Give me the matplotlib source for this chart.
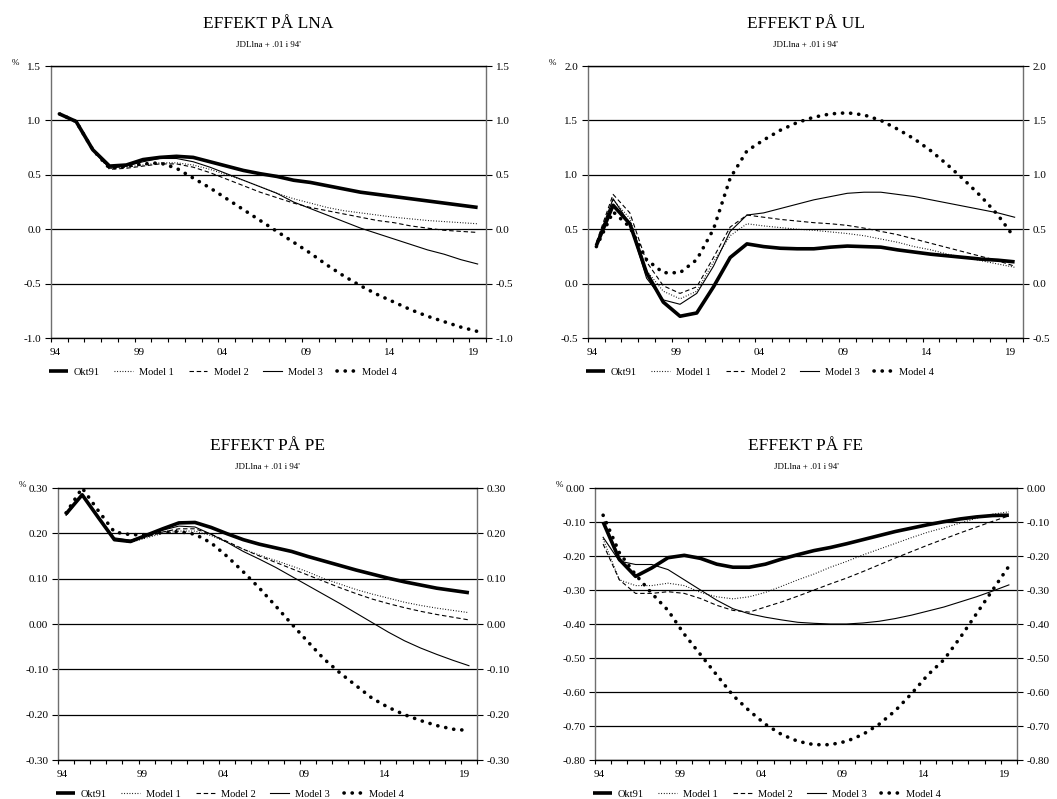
import numpy as np
import matplotlib
matplotlib.use("Agg")
import matplotlib.pyplot as plt
from matplotlib.ticker import FixedLocator, FormatStrFormatter, MultipleLocator

plt.rcParams['font.family'] = ['Liberation Serif', 'DejaVu Serif']

years = ['94', '99', '04', '09', '14', '19']
n_years = 26
series_names = ['Okt91', 'Model 1', 'Model 2', 'Model 3', 'Model 4']

# EFFEKT PÅ LNA
lna_okt91 = [1.06, 0.99, 0.73, 0.58, 0.59, 0.64, 0.66, 0.67, 0.66, 0.62, 0.58, 0.54, 0.51,
             0.485, 0.45, 0.43, 0.40, 0.37, 0.34, 0.32, 0.30, 0.28, 0.26, 0.24, 0.22, 0.20]
lna_m1 = [1.06, 0.99, 0.73, 0.56, 0.57, 0.59, 0.61, 0.61, 0.59, 0.55, 0.50, 0.45, 0.39,
          0.33, 0.28, 0.24, 0.20, 0.17, 0.15, 0.13, 0.11, 0.095, 0.08, 0.07, 0.06, 0.05]
lna_m2 = [1.06, 0.99, 0.73, 0.55, 0.56, 0.58, 0.60, 0.60, 0.57, 0.52, 0.46, 0.40, 0.34,
          0.29, 0.24, 0.20, 0.17, 0.14, 0.11, 0.08, 0.06, 0.03, 0.01, -0.01, -0.02, -0.03]
lna_m3 = [1.06, 0.99, 0.73, 0.56, 0.58, 0.62, 0.65, 0.65, 0.62, 0.57, 0.51, 0.45, 0.39,
          0.33, 0.25, 0.19, 0.13, 0.07, 0.01, -0.04, -0.09, -0.14, -0.19, -0.23, -0.28, -0.32]
lna_m4 = [1.06, 0.99, 0.73, 0.56, 0.58, 0.60, 0.61, 0.56, 0.47, 0.38, 0.28, 0.18, 0.08,
          -0.02, -0.12, -0.22, -0.33, -0.43, -0.52, -0.60, -0.67, -0.74, -0.80, -0.85, -0.90, -0.94]

# EFFEKT PÅ UL
ul_okt91 = [0.35, 0.72, 0.55, 0.10, -0.17, -0.30, -0.27, -0.03, 0.24, 0.365, 0.34, 0.325, 0.32,
            0.32, 0.335, 0.345, 0.34, 0.335, 0.31, 0.29, 0.27, 0.255, 0.24, 0.225, 0.215, 0.20]
ul_m1 = [0.36, 0.77, 0.60, 0.12, -0.07, -0.14, -0.07, 0.20, 0.44, 0.55, 0.53, 0.515, 0.50,
         0.49, 0.475, 0.46, 0.44, 0.41, 0.38, 0.34, 0.31, 0.27, 0.24, 0.21, 0.18, 0.15]
ul_m2 = [0.38, 0.82, 0.65, 0.20, -0.02, -0.09, -0.03, 0.24, 0.52, 0.63, 0.61, 0.59, 0.575,
         0.56, 0.55, 0.535, 0.51, 0.48, 0.45, 0.41, 0.37, 0.33, 0.29, 0.25, 0.21, 0.16]
ul_m3 = [0.37, 0.78, 0.55, 0.05, -0.15, -0.19, -0.09, 0.16, 0.48, 0.63, 0.65, 0.69, 0.73,
         0.77, 0.80, 0.83, 0.84, 0.84, 0.82, 0.80, 0.77, 0.74, 0.71, 0.68, 0.65, 0.61]
ul_m4 = [0.34, 0.66, 0.52, 0.22, 0.10, 0.10, 0.22, 0.50, 0.97, 1.22, 1.32, 1.41, 1.48,
         1.53, 1.56, 1.57, 1.55, 1.50, 1.42, 1.33, 1.22, 1.09, 0.95, 0.80, 0.63, 0.42]

# EFFEKT PÅ PE
pe_okt91 = [0.243, 0.285, 0.235, 0.186, 0.182, 0.196, 0.21, 0.223, 0.224, 0.213, 0.199, 0.186, 0.176,
            0.168, 0.16, 0.149, 0.139, 0.129, 0.119, 0.110, 0.101, 0.093, 0.086, 0.079, 0.074, 0.069]
pe_m1 = [0.24, 0.285, 0.235, 0.185, 0.18, 0.19, 0.20, 0.205, 0.205, 0.195, 0.18, 0.165, 0.152,
         0.14, 0.128, 0.115, 0.10, 0.088, 0.076, 0.066, 0.057, 0.048, 0.041, 0.035, 0.03, 0.025]
pe_m2 = [0.24, 0.285, 0.235, 0.186, 0.182, 0.192, 0.203, 0.21, 0.21, 0.198, 0.182, 0.165, 0.15,
         0.136, 0.122, 0.108, 0.094, 0.08, 0.067, 0.055, 0.045, 0.036, 0.028, 0.021, 0.015, 0.009]
pe_m3 = [0.24, 0.285, 0.235, 0.19, 0.185, 0.195, 0.207, 0.216, 0.214, 0.198, 0.18, 0.16, 0.143,
         0.125, 0.105, 0.085, 0.065, 0.045, 0.024, 0.003, -0.018, -0.037, -0.053, -0.067, -0.080, -0.092]
pe_m4 = [0.245, 0.30, 0.25, 0.203, 0.197, 0.197, 0.202, 0.204, 0.198, 0.179, 0.149, 0.115, 0.079,
         0.040, 0.0, -0.039, -0.077, -0.108, -0.136, -0.164, -0.184, -0.20, -0.213, -0.224, -0.232, -0.235]

# EFFEKT PÅ FE
fe_okt91 = [-0.10, -0.21, -0.26, -0.235, -0.205, -0.198, -0.207, -0.224, -0.233, -0.233, -0.224, -0.209, -0.196,
            -0.184, -0.175, -0.164, -0.152, -0.14, -0.128, -0.118, -0.108, -0.099, -0.091, -0.085, -0.081, -0.08]
fe_m1 = [-0.15, -0.27, -0.287, -0.287, -0.28, -0.287, -0.307, -0.32, -0.326, -0.32, -0.307, -0.289, -0.27,
         -0.253, -0.233, -0.216, -0.197, -0.18, -0.163, -0.146, -0.13, -0.117, -0.103, -0.089, -0.077, -0.07]
fe_m2 = [-0.165, -0.27, -0.31, -0.31, -0.305, -0.31, -0.325, -0.345, -0.36, -0.365, -0.35, -0.335, -0.318,
         -0.30, -0.282, -0.265, -0.246, -0.226, -0.206, -0.187, -0.168, -0.15, -0.132, -0.115, -0.098, -0.082]
fe_m3 = [-0.145, -0.215, -0.225, -0.225, -0.24, -0.27, -0.30, -0.33, -0.355, -0.37, -0.38, -0.388, -0.395,
         -0.398, -0.40, -0.40, -0.397, -0.392, -0.384, -0.374, -0.362, -0.35, -0.335, -0.32, -0.303, -0.285]
fe_m4 = [-0.08, -0.19, -0.255, -0.31, -0.36, -0.43, -0.49, -0.55, -0.61, -0.655, -0.695, -0.725, -0.745,
         -0.755, -0.755, -0.745, -0.725, -0.695, -0.655, -0.605, -0.55, -0.505, -0.44, -0.37, -0.30, -0.23]

W, H = 1057, 799
fig = plt.figure(figsize=(W / 100, H / 100), dpi=100)

styles = [
    dict(color='black', lw=2.6, solid_capstyle='butt'),
    dict(color='black', lw=0.8, linestyle=(0, (0.8, 1.6))),
    dict(color='black', lw=0.8, linestyle=(0, (4, 2.5))),
    dict(color='black', lw=0.8),
    dict(color='black', lw=2.6, linestyle=(0, (0.05, 2.2)), dash_capstyle='round'),
]


def panel(box, title, series, ymin, ymax, step, fmt):
    left, right, top, bottom = box
    ax = fig.add_axes([left / W, 1 - bottom / H, (right - left) / W, (bottom - top) / H])
    x = np.arange(n_years)
    lines = []
    for vals, st, name in zip(series, styles, series_names):
        ln, = ax.plot(x, vals, label=name, **st)
        lines.append(ln)
    ax.set_xlim(-0.5, n_years - 0.5)
    ax.set_ylim(ymin, ymax)
    ax.yaxis.set_major_locator(MultipleLocator(step))
    ax.yaxis.set_major_formatter(FormatStrFormatter(fmt))
    ax.yaxis.grid(True, color='black', lw=0.9)
    ax.set_axisbelow(True)

    # category boundaries as ticks, labels every fifth year
    ax.xaxis.set_minor_locator(FixedLocator(np.arange(-0.5, n_years, 1.0)))
    ax.set_xticks(np.arange(0, n_years, 5) - 0.25)
    ax.set_xticklabels(years)
    ax.tick_params(axis='x', which='major', length=0, pad=7, labelsize=8)
    ax.tick_params(axis='x', which='minor', length=3, width=0.8, direction='out')
    ax.tick_params(axis='y', which='major', length=4, width=0.8, direction='out',
                   right=True, labelright=True, labelsize=8, pad=3)
    for s in ['left', 'right']:
        ax.spines[s].set_color('#6f6f6f')
        ax.spines[s].set_linewidth(1.0)
    ax.spines['bottom'].set_linewidth(1.0)
    ax.spines['top'].set_linewidth(1.0)

    cx = (left + right) / 2 / W
    fig.text(cx, 1 - (top - 42) / H, title, ha='center', va='center', fontsize=12.5)
    fig.text(cx, 1 - (top - 21) / H, "JDLlna + .01 i 94'", ha='center', va='center', fontsize=6.5)
    fig.text((left - 36) / W, 1 - (top - 3) / H, '%', ha='center', va='center', fontsize=6.5)

    ax.legend(lines, series_names, loc='center left',
              bbox_to_anchor=(-0.005, -34 / (bottom - top)),
              ncol=5, frameon=False, fontsize=7.5, handlelength=1.8, handletextpad=0.6,
              columnspacing=1.4, borderaxespad=0, borderpad=0)
    return ax


panel((51, 486, 66, 338), 'EFFEKT PÅ LNA',
      [lna_okt91, lna_m1, lna_m2, lna_m3, lna_m4], -1.0, 1.5, 0.5, '%.1f')
panel((588, 1023, 66, 338), 'EFFEKT PÅ UL',
      [ul_okt91, ul_m1, ul_m2, ul_m3, ul_m4], -0.5, 2.0, 0.5, '%.1f')
panel((58, 477, 488, 760), 'EFFEKT PÅ PE',
      [pe_okt91, pe_m1, pe_m2, pe_m3, pe_m4], -0.30, 0.30, 0.10, '%.2f')
panel((595, 1017, 488, 760), 'EFFEKT PÅ FE',
      [fe_okt91, fe_m1, fe_m2, fe_m3, fe_m4], -0.80, 0.0, 0.10, '%.2f')

fig.savefig('out.png', dpi=100)
